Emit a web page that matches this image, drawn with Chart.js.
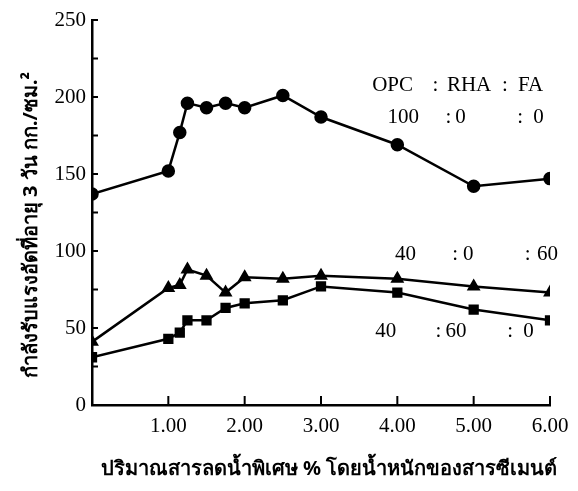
<!DOCTYPE html>
<html>
<head>
<meta charset="utf-8">
<script src="https://cdn.jsdelivr.net/npm/chart.js@4/dist/chart.umd.min.js"></script>
<style>
  html, body { margin: 0; padding: 0; background: #fff; }
  #wrap { width: 578px; height: 491px; }
</style>
</head>
<body>
<div id="wrap"><canvas id="chart"></canvas></div>
<script>
// admixture dosage (% by weight of cement)
const dosage = [0, 1.0, 1.15, 1.25, 1.5, 1.75, 2.0, 2.5, 3.0, 4.0, 5.0, 6.0];
// 3 day compressive strength, ksc
const opc100 = [137, 152, 177, 196, 193, 196, 193, 201, 187, 169, 142, 147];
const fa60 = [41, 76, 78, 88, 84, 73, 83, 82, 84, 82, 77, 73];
const rha60 = [31, 43, 47, 55, 55, 63, 66, 68, 77, 73, 62, 55];

const xTicks = [1, 2, 3, 4, 5, 6];
const yTicks = [0, 25, 50, 75, 100, 125, 150, 175, 200, 225, 250];
const yLabels = [0, 50, 100, 150, 200, 250];

const xTitle = 'ปริมาณสารลดน้ำพิเศษ % โดยน้ำหนักของสารซีเมนต์';
const yTitle = 'กำลังรับแรงอัดที่อายุ 3 วัน กก./ซม.²';

// mix ratio notes, placed in data units: [text, x]
const noteRows = [
  { y: 207.8, parts: [['OPC', 3.67], [':', 4.46], ['RHA', 4.65], [':', 5.37], ['FA', 5.58]] },
  { y: 187, parts: [['100', 3.87], [':', 4.63], ['0', 4.76], [':', 5.57], ['0', 5.78]] },
  { y: 98, parts: [['40', 3.97], [':', 4.72], ['0', 4.86], [':', 5.67], ['60', 5.83]] },
  { y: 48, parts: [['40', 3.71], [':', 4.50], ['60', 4.63], [':', 5.44], ['0', 5.65]] }
];

function toPoints(ys) {
  return ys.map((y, i) => ({ x: dosage[i], y: y }));
}

const serif = "'Liberation Serif', 'DejaVu Serif', serif";
const thai = "'Noto Sans', 'DejaVu Sans', sans-serif";

// inside ticks, titles and mix notes
const extras = {
  id: 'extras',
  afterDraw(chart) {
    const ctx = chart.ctx;
    const xs = chart.scales.x, ys = chart.scales.y;
    const area = chart.chartArea;
    ctx.save();
    ctx.strokeStyle = '#000';
    ctx.lineWidth = 2;
    yTicks.forEach(v => {
      const py = ys.getPixelForValue(v);
      ctx.beginPath();
      ctx.moveTo(area.left - 1, py);
      ctx.lineTo(area.left + 6, py);
      ctx.stroke();
    });
    xTicks.forEach(v => {
      const px = xs.getPixelForValue(v);
      ctx.beginPath();
      ctx.moveTo(px, area.bottom);
      ctx.lineTo(px, area.bottom - 9);
      ctx.stroke();
    });

    ctx.fillStyle = '#000';
    ctx.font = '21px ' + serif;
    ctx.textBaseline = 'middle';
    ctx.textAlign = 'left';
    noteRows.forEach(row => {
      const py = ys.getPixelForValue(row.y);
      row.parts.forEach(p => {
        ctx.fillText(p[0], xs.getPixelForValue(p[1]), py);
      });
    });

    ctx.font = 'bold 20px ' + thai;
    ctx.textAlign = 'center';
    ctx.fillText(xTitle, 329, 469);
    ctx.translate(31, 225);
    ctx.rotate(-Math.PI / 2);
    ctx.fillText(yTitle, 0, 0);
    ctx.restore();
  }
};

const lineStyle = {
  borderColor: '#000',
  backgroundColor: '#000',
  borderWidth: 2.5,
  pointRadius: 5.5,
  pointHoverRadius: 5.5,
  tension: 0
};

new Chart(document.getElementById('chart'), {
  type: 'scatter',
  data: {
    datasets: [
      Object.assign({ label: '100:0:0', data: toPoints(opc100), showLine: true, pointStyle: 'circle' }, lineStyle),
      Object.assign({ label: '40:0:60', data: toPoints(fa60), showLine: true, pointStyle: 'triangle', pointRadius: 6.5 }, lineStyle),
      Object.assign({ label: '40:60:0', data: toPoints(rha60), showLine: true, pointStyle: 'rect', pointRadius: 5.5 }, lineStyle)
    ]
  },
  options: {
    responsive: true,
    maintainAspectRatio: false,
    animation: false,
    layout: { padding: { left: 0, right: 28, top: 20, bottom: 0 } },
    plugins: { legend: { display: false }, tooltip: { enabled: false } },
    scales: {
      x: {
        type: 'linear',
        min: 0, max: 6,
        afterFit: s => { s.height = 86; },
        afterBuildTicks: s => { s.ticks = [0].concat(xTicks).map(v => ({ value: v })); },
        grid: { display: false, drawTicks: false },
        border: { display: true, color: '#000', width: 2.5 },
        ticks: {
          color: '#000',
          font: { family: serif, size: 21 },
          padding: 9,
          maxRotation: 0,
          callback: v => (v === 0 ? '' : v.toFixed(2))
        }
      },
      y: {
        type: 'linear',
        min: 0, max: 250,
        afterFit: s => { s.width = 92; },
        afterBuildTicks: s => { s.ticks = yLabels.map(v => ({ value: v })); },
        grid: { display: false, drawTicks: false },
        border: { display: true, color: '#000', width: 2.5 },
        ticks: {
          color: '#000',
          font: { family: serif, size: 21 },
          padding: 6,
          callback: v => String(v)
        }
      }
    }
  },
  plugins: [extras]
});
</script>
</body>
</html>
